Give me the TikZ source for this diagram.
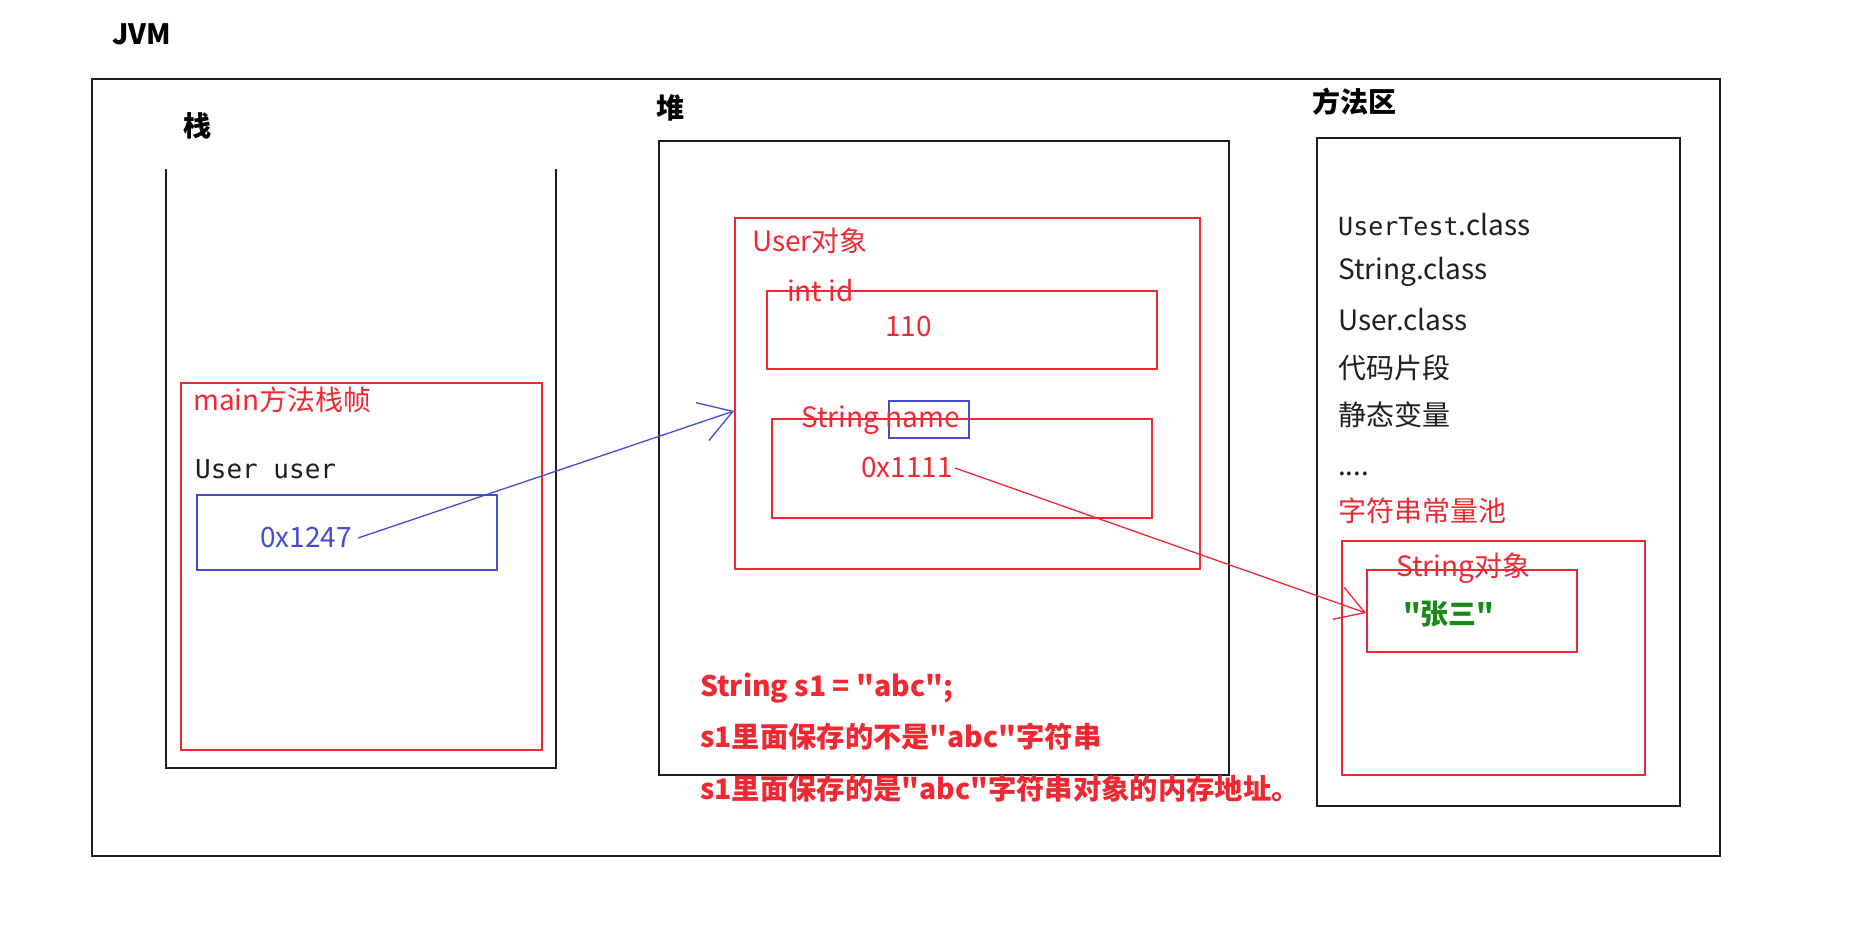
\documentclass[tikz,border=0pt]{standalone}
\usepackage{fontspec}
\setmainfont{Noto Sans CJK SC}[Ligatures=TeXOff]
\newfontfamily\monof{DejaVu Sans Mono}[Ligatures=TeXOff]
\usetikzlibrary{arrows.meta}
\newcommand\dq{\symbol{34}}
\definecolor{jred}{RGB}{240,40,50}
\definecolor{jblue}{RGB}{70,76,210}
\definecolor{jgreen}{RGB}{20,140,20}
\definecolor{jblack}{RGB}{30,30,30}
\tikzset{
  blk/.style={draw=jblack, line width=1.6pt, inner sep=0pt, anchor=north west},
  rbox/.style={draw=jred, line width=1.5pt, inner sep=0pt, anchor=north west},
  bbox/.style={draw=jblue, line width=1.5pt, inner sep=0pt, anchor=north west},
  txt/.style={anchor=west, inner sep=0pt, font=\fontsize{28}{32}\selectfont},
  hd/.style={txt, font=\fontsize{28}{32}\selectfont\bfseries, text=black},
  rtxt/.style={txt, text=jred},
  btxt/.style={txt, text=jblue},
  ktxt/.style={txt, text=jblack},
  note/.style={txt, text=jred, font=\fontsize{28.3}{32}\selectfont\bfseries},
  bline/.style={draw=jblue, line width=1.3pt},
  rline/.style={draw=jred, line width=1.3pt}
}
\begin{document}
\begin{tikzpicture}[x=1pt,y=-1pt]
\useasboundingbox (0,0) rectangle (1856,938);
% titles
\node[hd] (jvm) at (112,34) {JVM};
\node[hd] (zhan) at (183,126) {栈};
\node[hd] (dui) at (656,108) {堆};
\node[hd] (ffq) at (1312,102) {方法区};
% outer boxes
\node[blk, minimum width=1628pt, minimum height=777pt] (outer) at (91,78) {};
\coordinate (stl) at (166,169);
\coordinate (str) at (556,169);
\draw[draw=jblack, line width=1.6pt] (stl) -- (166,768) -- (556,768) -- (str);
\node[blk, minimum width=570pt, minimum height=634pt] (heap) at (658,140) {};
\node[blk, minimum width=363pt, minimum height=668pt] (method) at (1316,137) {};
% stack frame
\node[rbox, minimum width=361pt, minimum height=367pt] (frame) at (180,382) {};
\node[rtxt] (mainlbl) at (193,400) {main方法栈帧};
\node[ktxt, font=\fontsize{26}{30}\selectfont\monof] (uu) at (195,469) {User user};
\node[bbox, minimum width=300pt, minimum height=75pt] (ubox) at (196,494) {};
\node[btxt] (t1247) at (260,538) {0x1247};
% heap contents
\node[rbox, minimum width=465pt, minimum height=351pt] (uobj) at (734,217) {};
\node[rtxt] (uobjlbl) at (752,241) {User对象};
\node[rbox, minimum width=390pt, minimum height=78pt] (idbox) at (766,290) {};
\node[rtxt] (idlbl) at (787,291) {int id};
\node[rtxt] (v110) at (885,327) {110};
\node[rbox, minimum width=380pt, minimum height=99pt] (namebox) at (771,418) {};
\node[bbox, minimum width=80pt, minimum height=37pt] (nameblue) at (888,400) {};
\node[rtxt] (namelbl) at (801,420) {String name};
\node[rtxt] (t1111) at (861,468) {0x1111};
% notes
\node[note] (n1) at (700,688) {String s1 = \dq abc\dq;};
\node[note] (n2) at (700,737) {s1里面保存的不是\dq abc\dq 字符串};
\node[note] (n3) at (700,789) {s1里面保存的是\dq abc\dq 字符串对象的内存地址。};
% method area contents
\node[ktxt] (m1) at (1338,225) {{\monof\fontsize{25}{30}\selectfont UserTest}.class};
\node[ktxt] (m2) at (1338,272) {String.class};
\node[ktxt] (m3) at (1338,320) {User.class};
\node[ktxt] (m4) at (1338,368) {代码片段};
\node[ktxt] (m5) at (1338,415) {静态变量};
\node[ktxt] (m6) at (1338,474) {....};
\node[rtxt] (m7) at (1338,511) {字符串常量池};
\node[rbox, minimum width=303pt, minimum height=234pt] (pool) at (1341,540) {};
\node[rbox, minimum width=210pt, minimum height=82pt] (sobj) at (1366,569) {};
\node[rtxt] (sobjlbl) at (1396,568) {String对象};
\node[txt, text=jgreen, font=\fontsize{28}{32}\selectfont\bfseries] (zs) at (1403,614) {\dq 张三\dq};
% connectors
\coordinate (btip) at (734,411);
\coordinate (rtip) at (1366,613);
\draw[bline, -{Straight Barb[length=32pt,width=40pt]}] ([xshift=6pt]t1247.east) -- (btip);
\draw[rline, -{Straight Barb[length=28pt,width=34pt]}] ([xshift=2pt]t1111.east) -- (rtip);
\end{tikzpicture}
\end{document}
